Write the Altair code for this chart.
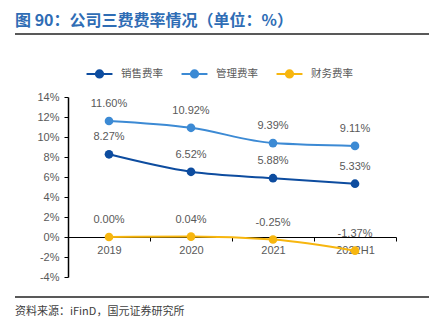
import altair as alt
import pandas as pd

periods = ["2019", "2020", "2021", "2022H1"]
sales = [8.27, 6.52, 5.88, 5.33]
mgmt = [11.60, 10.92, 9.39, 9.11]
fin = [0.00, 0.04, -0.25, -1.37]
series = ["销售费率", "管理费率", "财务费率"]
colors = ["#0D4C9F", "#3C8AD4", "#F7B60F"]
y_ticks = [-4, -2, 0, 2, 4, 6, 8, 10, 12, 14]

rows = []
for name, vals in zip(series, [sales, mgmt, fin]):
    for p, v in zip(periods, vals):
        rows.append({"period": p, "series": name, "value": v})
df = pd.DataFrame(rows)

FONT = "Noto Sans CJK SC"
W, H = 328, 180

x = alt.X(
    "period:N",
    sort=periods,
    scale=alt.Scale(type="band", paddingInner=0, paddingOuter=0),
    axis=alt.Axis(
        title=None, labelAngle=0, offset=-40, tickBand="extent",
        domainColor="#000000", domainWidth=1.2, tickColor="#000000",
        tickSize=4, labelColor="#595959", labelFontSize=11, labelFont="Liberation Sans",
        labelPadding=3,
    ),
)
y = alt.Y(
    "value:Q",
    scale=alt.Scale(domain=[-4, 14], nice=False, zero=False),
    axis=alt.Axis(
        title=None, values=y_ticks, labelExpr="datum.value + '%'", grid=False,
        domainColor="#000000", domainWidth=1.5, tickColor="#000000", tickSize=4,
        labelColor="#595959", labelFontSize=11, labelFont="Liberation Sans", labelPadding=5,
    ),
)
legend = alt.Legend(
    title=None, orient="none", direction="horizontal", legendX=20, legendY=-35,
    symbolType="M -1.25 0 L 1.25 0 M 0.35 0 A 0.35 0.35 0 1 1 -0.35 0 A 0.35 0.35 0 1 1 0.35 0 Z",
    symbolSize=430, symbolStrokeWidth=2, columnPadding=14, labelFont=FONT,
    labelFontSize=10.5, labelColor="#595959", labelOffset=10,
)
color = alt.Color("series:N", scale=alt.Scale(domain=series, range=colors), legend=legend)

base = alt.Chart(df)

lines = base.mark_line(interpolate="monotone", strokeWidth=2).encode(x=x, y=y, color=color)
points = base.mark_point(filled=True, size=75, opacity=1).encode(x=x, y=y, color=color)
labels = base.mark_text(dy=-17, fontSize=11, font="Liberation Sans", color="#595959").encode(
    x=x, y=y, text="label:N"
).transform_calculate(label="replace(format(datum.value, '.2f'), '\u2212', '-') + '%'")

title = alt.Chart(pd.DataFrame({"t": ["图 90：公司三费费率情况（单位：%）"]})).mark_text(
    align="left", baseline="middle", fontSize=16, fontWeight="bold", font=FONT, color="#2F6DB5"
).encode(x=alt.value(-53), y=alt.value(-76), text="t:N")
source = alt.Chart(pd.DataFrame({"t": ["资料来源：iFinD，国元证券研究所"]})).mark_text(
    align="left", baseline="middle", fontSize=11, font=FONT, color="#404040"
).encode(x=alt.value(-53), y=alt.value(215), text="t:N")
top_rule = alt.Chart(pd.DataFrame({"a": [0]})).mark_rule(color="#222222", strokeWidth=1.5).encode(
    x=alt.value(-53), x2=alt.value(361), y=alt.value(-63)
)
bottom_rule = alt.Chart(pd.DataFrame({"a": [0]})).mark_rule(color="#222222", strokeWidth=1.5).encode(
    x=alt.value(-53), x2=alt.value(361), y=alt.value(200)
)

chart = alt.layer(lines, points, labels, title, source, top_rule, bottom_rule).properties(
    width=W, height=H,
    autosize=alt.AutoSizeParams(type="none"),
    padding={"left": 68, "top": 97, "right": 33, "bottom": 45},
    background="white",
).configure_view(stroke=None)

chart.save("out.html", embed_options={"renderer": "svg", "actions": False})
